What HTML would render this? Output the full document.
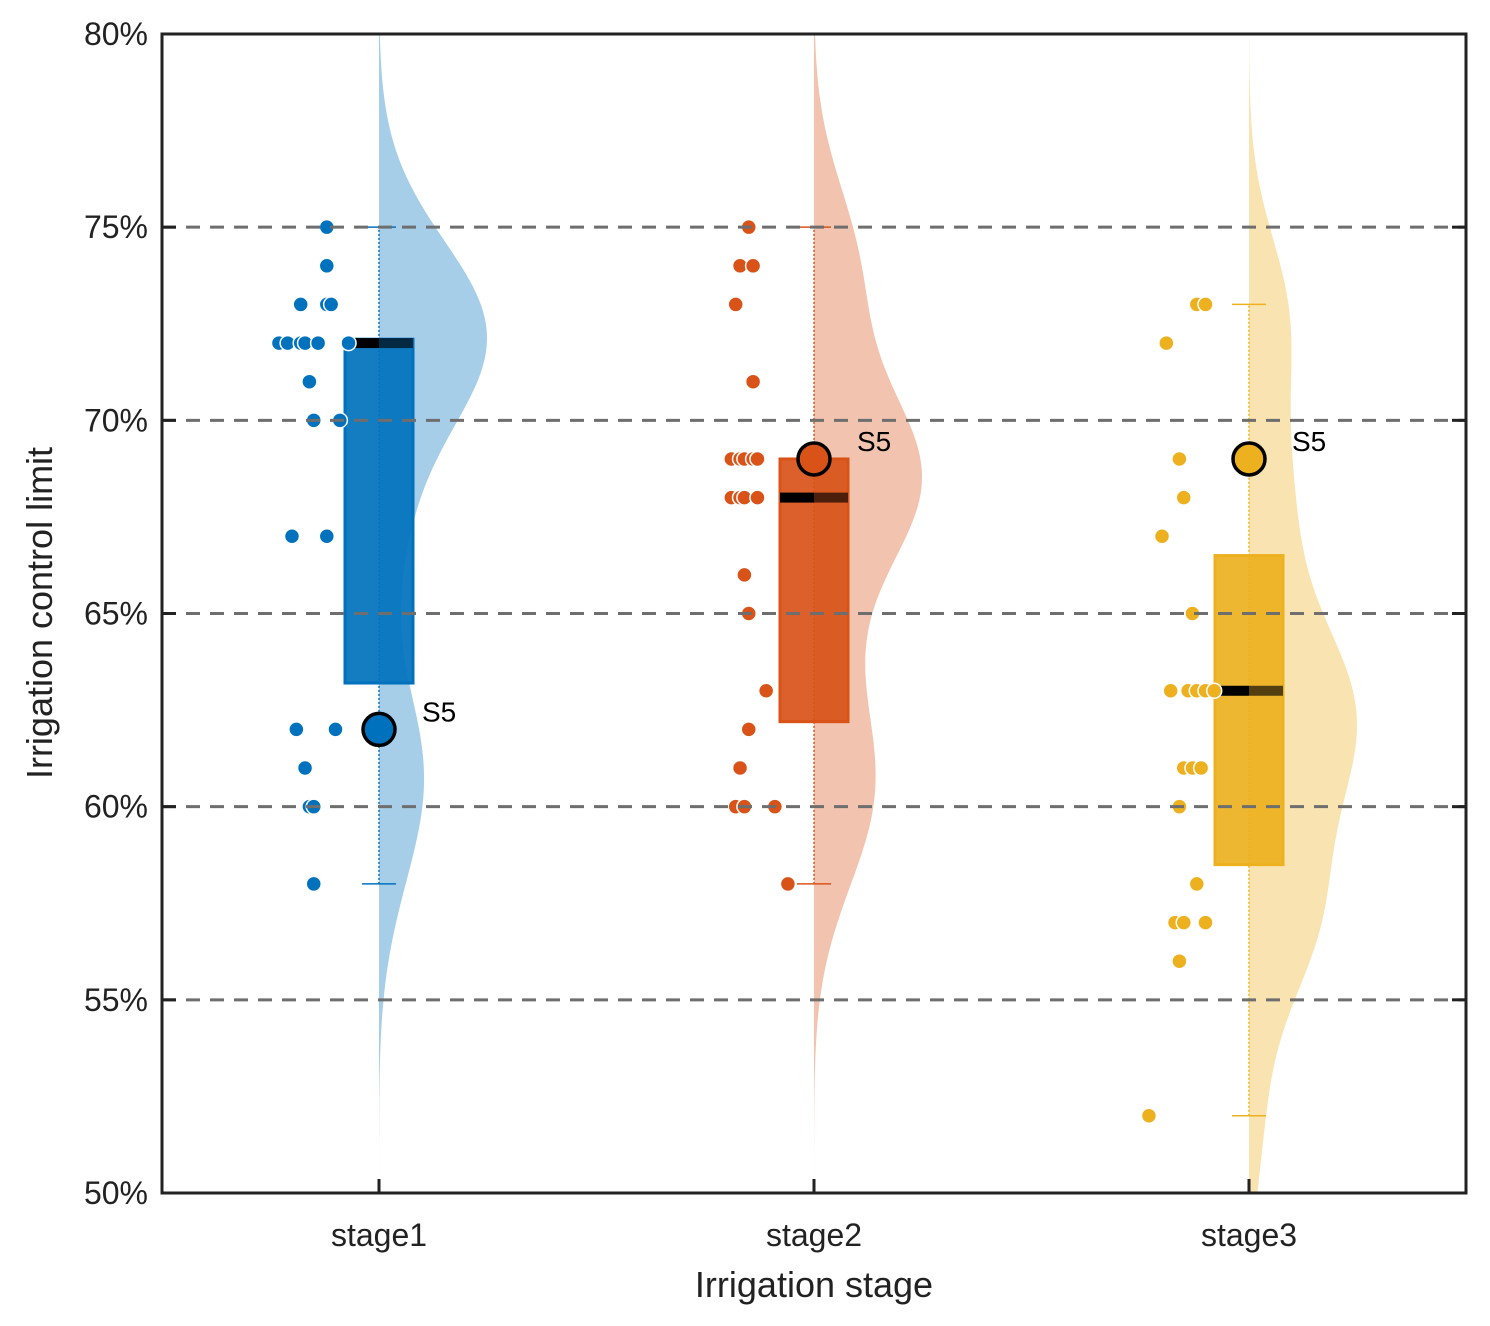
<!DOCTYPE html>
<html><head><meta charset="utf-8"><style>
body{margin:0;background:#fff;}
svg{display:block;font-family:"Liberation Sans",sans-serif;}
</style></head><body>
<svg id="chart" width="1490" height="1326"></svg>
<script>
const categories = ["stage1","stage2","stage3"];
const colors = ["#0072BD","#D95319","#EDB120"];
const stage1Values = [75,74,73,73,73,72,72,72,72,72,72,71,70,70,67,67,62,62,61,60,60,58];
const stage1Jitter = [-0.12,-0.12,-0.18,-0.12,-0.11,-0.23,-0.21,-0.18,-0.17,-0.14,-0.07,-0.16,-0.15,-0.09,-0.20,-0.12,-0.19,-0.10,-0.17,-0.16,-0.15,-0.15];
const stage2Values = [75,74,74,73,71,69,69,69,69,69,68,68,68,68,66,65,63,62,61,60,60,60,58];
const stage2Jitter = [-0.15,-0.17,-0.14,-0.18,-0.14,-0.19,-0.17,-0.16,-0.14,-0.13,-0.19,-0.17,-0.16,-0.13,-0.16,-0.15,-0.11,-0.15,-0.17,-0.18,-0.16,-0.09,-0.06];
const stage3Values = [73,73,72,69,68,67,65,63,63,63,63,63,61,61,61,60,58,57,57,57,56,52];
const stage3Jitter = [-0.12,-0.10,-0.19,-0.16,-0.15,-0.20,-0.13,-0.18,-0.14,-0.12,-0.10,-0.08,-0.15,-0.13,-0.11,-0.16,-0.12,-0.17,-0.15,-0.10,-0.16,-0.23];
const boxLow = [63.2,62.2,58.5];
const boxHigh = [72.1,69.0,66.5];
const medians = [72,68,63];
const whiskerLow = [58,58,52];
const whiskerHigh = [75,75,73];
const s5Values = [62,69,69];
const yTicks = [50,55,60,65,70,75,80];
const gridLines = [55,60,65,70,75];

const allValues=[stage1Values,stage2Values,stage3Values];
const allJitter=[stage1Jitter,stage2Jitter,stage3Jitter];
const L=162,R=1466,T=34,B=1193;
const yMin=50,yMax=80;
const ys=v=>B-(v-yMin)/(yMax-yMin)*(B-T);
const step=435;
const xs=i=>379+i*step;
const NS="http://www.w3.org/2000/svg";
const svg=document.getElementById('chart');
function el(tag,attrs,parent){const e=document.createElementNS(NS,tag);for(const k in attrs)e.setAttribute(k,attrs[k]);(parent||svg).appendChild(e);return e;}

const clip=el('clipPath',{id:'pc'});el('rect',{x:L,y:T,width:R-L,height:B-T},clip);
const plot=el('g',{'clip-path':'url(#pc)'});



categories.forEach((c,i)=>{
  const vals=allValues[i],bw=2.1;
  let maxD=0;const dens=[];
  for(let v=yMin;v<=yMax+0.001;v+=0.1){let d=0;vals.forEach(x=>d+=Math.exp(-0.5*((v-x)/bw)**2));dens.push([v,d]);if(d>maxD)maxD=d;}
  let p=`M${xs(i)},${ys(yMin)}`;
  dens.forEach(([v,d])=>{p+=` L${xs(i)+d/maxD*108},${ys(v)}`;});
  p+=` L${xs(i)},${ys(yMax)} Z`;
  const v=el('path',{d:p,fill:colors[i],'fill-opacity':0.35},plot);
  
  
});

gridLines.forEach(g=>{
  const l=el('line',{x1:L,x2:R,y1:ys(g),y2:ys(g),stroke:'#6e6e6e','stroke-width':3,'stroke-dasharray':'14,10'});
  
  
});

categories.forEach((c,i)=>{
  const cx=xs(i);
  const w=el('line',{x1:cx,x2:cx,y1:ys(whiskerLow[i]),y2:ys(whiskerHigh[i]),stroke:colors[i],'stroke-width':1.5,'stroke-dasharray':'2,2'},plot);
  
  
  [whiskerLow[i],whiskerHigh[i]].forEach(v=>{
    const cap=el('line',{x1:cx-17,x2:cx+17,y1:ys(v),y2:ys(v),stroke:colors[i],'stroke-width':1.5},plot);
    
    
  });
  const b=el('rect',{x:cx-34,y:ys(boxHigh[i]),width:68,height:ys(boxLow[i])-ys(boxHigh[i]),fill:colors[i],'fill-opacity':0.92,stroke:colors[i],'stroke-width':3},plot);
  
  
  const m1=el('rect',{x:cx-34,y:ys(medians[i])-5,width:34,height:10,fill:'#000'},plot);
  
  
  const m2=el('rect',{x:cx,y:ys(medians[i])-5,width:34,height:10,fill:'#000','fill-opacity':0.65},plot);
  
  
  allValues[i].forEach((v,j)=>{
    const d=el('circle',{cx:cx+allJitter[i][j]*step,cy:ys(v),r:7.5,fill:colors[i],stroke:'#fff','stroke-width':1.5},plot);
    
    
  });
  const s=el('circle',{cx:cx,cy:ys(s5Values[i]),r:16,fill:colors[i],stroke:'#000','stroke-width':3.5},plot);
  
  
  const st=el('text',{x:cx+43,y:ys(s5Values[i])-8,'font-size':28,fill:'#000'});
  st.textContent='S5';
  
  
  const tk=el('line',{x1:cx,x2:cx,y1:B,y2:B-14,stroke:'#222','stroke-width':3});
  
  
  const tl=el('text',{x:cx,y:1246,'font-size':32,'text-anchor':'middle',fill:'#222'});
  tl.textContent=c;
  
  
});

yTicks.forEach(t=>{
  const a=el('line',{x1:L,x2:L+14,y1:ys(t),y2:ys(t),stroke:'#222','stroke-width':3});
  
  
  const b=el('line',{x1:R,x2:R-14,y1:ys(t),y2:ys(t),stroke:'#222','stroke-width':3});
  
  
  const tl=el('text',{x:148,y:ys(t)+11,'font-size':32,'text-anchor':'end',fill:'#222'});
  tl.textContent=t+'%';
  
  
});

const frame=el('rect',{x:L,y:T,width:R-L,height:B-T,fill:'none',stroke:'#222','stroke-width':3});


const xt=el('text',{x:814,y:1297,'font-size':36,'text-anchor':'middle',fill:'#222'});
xt.textContent='Irrigation stage';


const yt=el('text',{x:0,y:0,'font-size':36,'text-anchor':'middle',fill:'#222',transform:'translate(52,613) rotate(-90)'});
yt.textContent='Irrigation control limit';


</script>
</body></html>
